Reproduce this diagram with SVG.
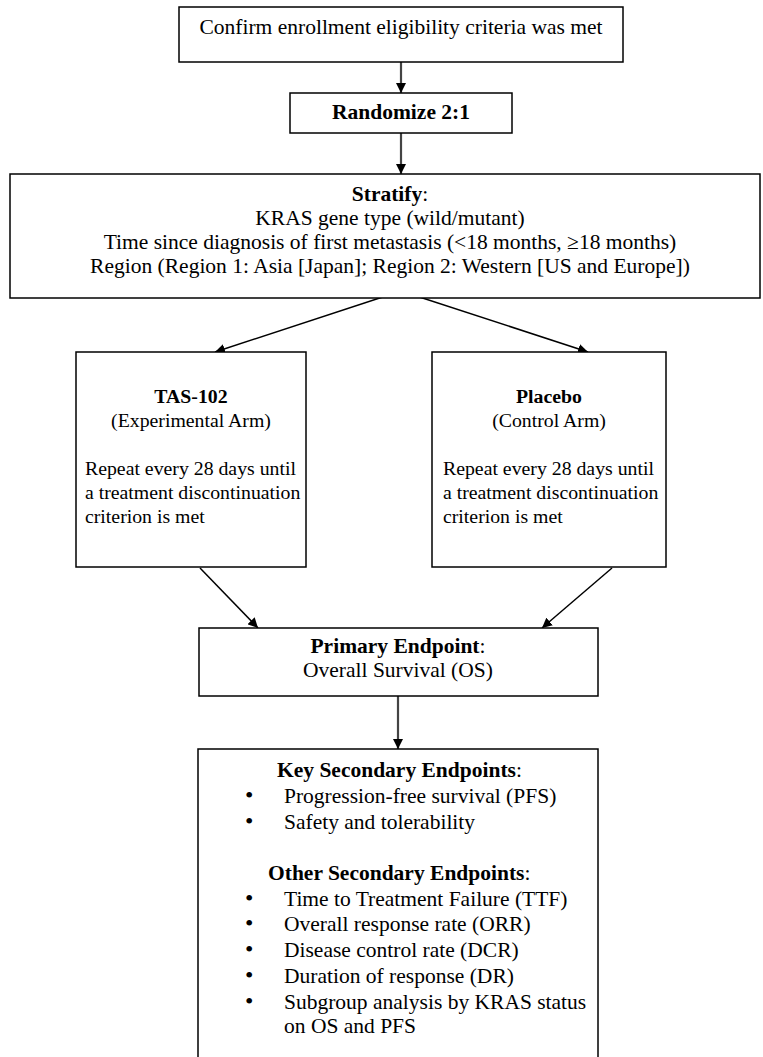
<svg xmlns="http://www.w3.org/2000/svg" width="763" height="1057" viewBox="0 0 763 1057">
<defs>
<marker id="ah" markerUnits="userSpaceOnUse" markerWidth="10" markerHeight="10" refX="10" refY="5" orient="auto">
<path d="M0,0 L10,5 L0,10 z" fill="#000"/>
</marker>
<style>
.box{fill:#fff;stroke:#000;stroke-width:1.5}
.t{font-family:"Liberation Serif","Times New Roman",serif;font-size:21.5px;fill:#000}
.s{font-size:19.8px}
.c{text-anchor:middle}
.b{font-weight:bold}
.bl{font-size:24px}
.v{stroke:#444;stroke-width:2.2;fill:none}
.d{stroke:#000;stroke-width:1.5;fill:none}
</style>
</defs>
<rect width="763" height="1057" fill="#fff"/>
<g id="connectors">
<line class="v" x1="401" y1="62" x2="401" y2="93" marker-end="url(#ah)"/>
<line class="v" x1="401" y1="133" x2="401" y2="174" marker-end="url(#ah)"/>
<line class="d" x1="401" y1="291" x2="215" y2="352" marker-end="url(#ah)"/>
<line class="d" x1="401" y1="291" x2="588" y2="352" marker-end="url(#ah)"/>
<line class="d" x1="200" y1="568" x2="258" y2="628" marker-end="url(#ah)"/>
<line class="d" x1="612" y1="568" x2="542" y2="628" marker-end="url(#ah)"/>
<line class="v" x1="398" y1="696" x2="398" y2="749" marker-end="url(#ah)"/>
</g>
<g id="confirm">
<rect class="box" x="179" y="7" width="444" height="55"/>
<text class="t c" x="401" y="34">Confirm enrollment eligibility criteria was met</text>
</g>
<g id="randomize">
<rect class="box" x="290" y="93" width="222" height="40"/>
<text class="t c b" x="401" y="119">Randomize 2:1</text>
</g>
<g id="stratify">
<rect class="box" x="10" y="174" width="750" height="124"/>
<text class="t c" x="390" y="201"><tspan class="b">Stratify</tspan>:</text>
<text class="t c" x="390" y="225">KRAS gene type (wild/mutant)</text>
<text class="t c" x="390" y="249">Time since diagnosis of first metastasis (&lt;18 months, ≥18 months)</text>
<text class="t c" x="390" y="273">Region (Region 1: Asia [Japan]; Region 2: Western [US and Europe])</text>
</g>
<g id="tas102">
<rect class="box" x="76" y="352" width="230" height="215"/>
<text class="t s c b" x="191" y="403">TAS-102</text>
<text class="t s c" x="191" y="427">(Experimental Arm)</text>
<text class="t s" x="85" y="475">Repeat every 28 days until</text>
<text class="t s" x="85" y="499">a treatment discontinuation</text>
<text class="t s" x="85" y="523">criterion is met</text>
</g>
<g id="placebo">
<rect class="box" x="432" y="352" width="234" height="215"/>
<text class="t s c b" x="549" y="403">Placebo</text>
<text class="t s c" x="549" y="427">(Control Arm)</text>
<text class="t s" x="443" y="475">Repeat every 28 days until</text>
<text class="t s" x="443" y="499">a treatment discontinuation</text>
<text class="t s" x="443" y="523">criterion is met</text>
</g>
<g id="primary">
<rect class="box" x="199" y="628" width="399" height="68"/>
<text class="t c" x="398" y="653"><tspan class="b">Primary Endpoint</tspan>:</text>
<text class="t c" x="398" y="677">Overall Survival (OS)</text>
</g>
<g id="secondary">
<rect class="box" x="198" y="749" width="400" height="330"/>
<text class="t" x="277" y="777"><tspan class="b">Key Secondary Endpoints</tspan>:</text>
<text class="t bl" x="245" y="803">•</text><text class="t" x="284" y="803">Progression-free survival (PFS)</text>
<text class="t bl" x="245" y="829">•</text><text class="t" x="284" y="829">Safety and tolerability</text>
<text class="t" x="268" y="880"><tspan class="b">Other Secondary Endpoints</tspan>:</text>
<text class="t bl" x="245" y="906">•</text><text class="t" x="284" y="906">Time to Treatment Failure (TTF)</text>
<text class="t bl" x="245" y="931">•</text><text class="t" x="284" y="931">Overall response rate (ORR)</text>
<text class="t bl" x="245" y="957">•</text><text class="t" x="284" y="957">Disease control rate (DCR)</text>
<text class="t bl" x="245" y="983">•</text><text class="t" x="284" y="983">Duration of response (DR)</text>
<text class="t bl" x="245" y="1009">•</text><text class="t" x="284" y="1009">Subgroup analysis by KRAS status</text>
<text class="t" x="284" y="1033">on OS and PFS</text>
</g>
</svg>
